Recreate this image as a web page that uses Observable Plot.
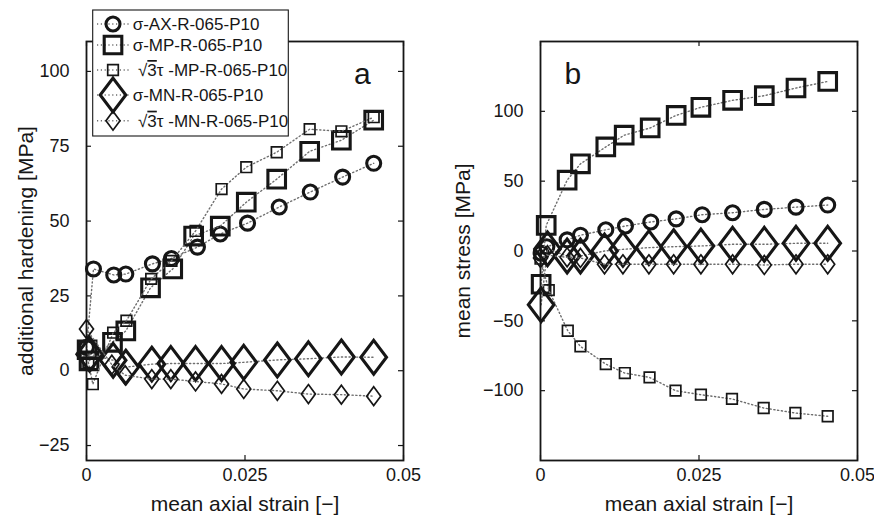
<!DOCTYPE html>
<html><head><meta charset="utf-8">
<script src="https://cdn.jsdelivr.net/npm/d3@7"></script>
<script src="https://cdn.jsdelivr.net/npm/@observablehq/plot@0.6"></script>
<style>
body{margin:0;background:#fff;}
#wrap{position:relative;width:874px;height:515px;font-family:"Liberation Sans",Arial,sans-serif;overflow:hidden;}
#wrap svg{position:absolute;top:0;}
</style></head><body><div id="wrap"></div>
<script>
// ---------- axis ticks ----------
const xTicks = [0, 0.025, 0.05];
const xTickLabels = ["0", "0.025", "0.05"];
const yTicksA = [-25, 0, 25, 50, 75, 100];
const yTicksB = [-100, -50, 0, 50, 100];
const seriesNames = ["σ-AX-R-065-P10", "σ-MP-R-065-P10", "√3τ -MP-R-065-P10", "σ-MN-R-065-P10", "√3τ -MN-R-065-P10"];

// ---------- panel a: additional hardening [MPa] vs strain ----------
const aAX = [[0,7.8],[0.0011,34],[0.0043,32],[0.0062,32.3],[0.0104,35.7],[0.0134,37.5],[0.0175,41.3],[0.0211,45.7],[0.0254,49.3],[0.0304,54.7],[0.0353,59.7],[0.0404,64.7],[0.0453,69.3]];
const aMP = [[0.0001,7],[0.0004,3.3],[0.0041,9.5],[0.0062,13.3],[0.0101,27.7],[0.0136,34],[0.0169,45],[0.0211,48.3],[0.0252,56.3],[0.0300,64],[0.0352,73.3],[0.0402,77],[0.0453,83.7]];
const aMPt = [[0.0003,2.8],[0.0010,-4.5],[0.0042,12.7],[0.0063,16.7],[0.0102,30.7],[0.0134,36.7],[0.0172,46.7],[0.0213,60.7],[0.0252,68],[0.0300,73],[0.0352,80.7],[0.0402,80],[0.0453,84.7]];
const aMN = [[0.0005,5.5],[0.0042,3.5],[0.0062,1.2],[0.0103,2.2],[0.0133,2.4],[0.0172,2.4],[0.0213,2.4],[0.0248,2.8],[0.0301,3.6],[0.0350,4],[0.0402,4.6],[0.0453,4.5]];
const aMNt = [[0,13.9],[0.0040,2],[0.0061,-1.5],[0.0103,-2.8],[0.0133,-2.8],[0.0172,-3.6],[0.0213,-4.4],[0.0248,-6.1],[0.0301,-6.7],[0.0350,-7.8],[0.0402,-8],[0.0453,-8.5]];

// ---------- panel b: mean stress [MPa] vs strain ----------
const bAX = [[0.0001,-1.5],[0.0010,3],[0.0042,8],[0.0063,11.3],[0.0103,15.2],[0.0134,17.9],[0.0174,20.8],[0.0214,23],[0.0255,26],[0.0303,27.4],[0.0353,29.8],[0.0403,31.4],[0.0453,32.9]];
const bMP = [[0.0001,-23.8],[0.0009,18.3],[0.0042,50.7],[0.0063,62.4],[0.0103,74.5],[0.0132,82.9],[0.0173,88.1],[0.0214,97.1],[0.0253,102.9],[0.0303,107.9],[0.0353,111.2],[0.0403,116.7],[0.0453,121.4]];
const bMPt = [[0,-5.5],[0.0013,-28],[0.0043,-57.1],[0.0063,-68.3],[0.0103,-81],[0.0133,-87.4],[0.0172,-90.5],[0.0213,-100],[0.0253,-102.9],[0.0302,-105.9],[0.0352,-112.4],[0.0402,-116],[0.0453,-118.3]];
const bMN = [[0.0001,-38.5],[0.0011,1.5],[0.0042,-3.6],[0.0063,-3.6],[0.0101,0],[0.0130,1.2],[0.0171,2.4],[0.0210,3.1],[0.0253,3.6],[0.0303,4.8],[0.0353,4.8],[0.0403,5.5],[0.0453,5.5]];
const bMNt = [[0,-5],[0.0011,-3],[0.0042,-4.5],[0.0063,-5],[0.0101,-9.5],[0.0130,-9.5],[0.0171,-9.5],[0.0210,-9.5],[0.0253,-9.5],[0.0303,-9.5],[0.0353,-10],[0.0403,-9.5],[0.0453,-9.5]];

// ---------- marker symbols ----------
const squareSym = {draw(ctx, size){const r=Math.sqrt(size/Math.PI); ctx.moveTo(-r,-r); ctx.lineTo(r,-r); ctx.lineTo(r,r); ctx.lineTo(-r,r); ctx.closePath();}};
function diamondSym(aspect){return {draw(ctx, size){const r=Math.sqrt(size/Math.PI), h=r*aspect; ctx.moveTo(0,-h); ctx.lineTo(r,0); ctx.lineTo(0,h); ctx.lineTo(-r,0); ctx.closePath();}};}
const circleSym = {draw(ctx, size){const r=Math.sqrt(size/Math.PI); ctx.moveTo(r,0); ctx.arc(0,0,r,0,2*Math.PI);}};
const styles = [
  {sym: circleSym, r: 7, sw: 3.1},
  {sym: squareSym, r: 8.8, sw: 3.1},
  {sym: squareSym, r: 5.3, sw: 1.7},
  {sym: diamondSym(1.32), r: 12.8, sw: 3.1},
  {sym: diamondSym(1.35), r: 7, sw: 1.7}
];
const ink = "#161616";
const lineStyle = {stroke: "#6e6e6e", strokeWidth: 1.4, strokeDasharray: "1.2,2.6"};
const fmt = d => d < 0 ? "\u2212" + Math.abs(d) : String(d);

function panel({series, yDomain, yTicks, marginLeft, marginRight, ylabel, ylabelDx, tag, tagX, tagY}) {
  const W = 437, H = 515, mt = 41, mb = 55;
  const xPx = (W - marginLeft - marginRight) / 0.05;
  const yPx = (H - mt - mb) / (yDomain[1] - yDomain[0]);
  const tx = 5 / xPx, ty = 5 / yPx;
  const marks = [];
  // inward ticks
  marks.push(Plot.ruleY(yTicks, {x1: 0, x2: tx, stroke: ink, strokeWidth: 1.2}));
  marks.push(Plot.ruleY(yTicks, {x1: 0.05 - tx, x2: 0.05, stroke: ink, strokeWidth: 1.2}));
  marks.push(Plot.ruleX(xTicks, {y1: yDomain[0], y2: yDomain[0] + ty, stroke: ink, strokeWidth: 1.2}));
  marks.push(Plot.ruleX(xTicks, {y1: yDomain[1] - ty, y2: yDomain[1], stroke: ink, strokeWidth: 1.2}));
  marks.push(Plot.axisX({ticks: xTicks, tickSize: 0, tickPadding: 8, tickFormat: d => xTickLabels[xTicks.indexOf(d)], label: null, fontSize: 18}));
  marks.push(Plot.axisY({ticks: yTicks, tickSize: 0, tickPadding: 17, tickFormat: fmt, label: null, fontSize: 18}));
  series.forEach((s, i) => {
    marks.push(Plot.line(s, {x: d => d[0], y: d => d[1], ...lineStyle}));
    marks.push(Plot.dot(s, {x: d => d[0], y: d => d[1], symbol: styles[i].sym, r: styles[i].r, stroke: ink, strokeWidth: styles[i].sw, fill: "none", strokeLinejoin: "miter"}));
  });
  marks.push(Plot.frame({stroke: ink, strokeWidth: 1.8}));
  marks.push(Plot.text(["mean axial strain [\u2212]"], {frameAnchor: "bottom", dy: 50, lineAnchor: "bottom", fontSize: 21, fill: ink}));
  marks.push(Plot.text([ylabel], {frameAnchor: "left", dx: ylabelDx, rotate: -90, lineAnchor: "middle", textAnchor: "middle", fontSize: 21, fill: ink}));
  marks.push(Plot.text([tag], {x: tagX, y: tagY, fontSize: 30, lineAnchor: "bottom", textAnchor: "middle", fill: ink}));
  return Plot.plot({
    width: W, height: H, marginLeft, marginRight, marginTop: mt, marginBottom: mb,
    x: {domain: [0, 0.05], axis: null},
    y: {domain: yDomain, axis: null},
    style: {fontFamily: '"Liberation Sans", Arial, sans-serif', color: ink, background: "transparent", overflow: "visible"},
    marks
  });
}

const wrap = document.getElementById("wrap");
const pa = panel({series: [aAX, aMP, aMPt, aMN, aMNt], yDomain: [-30, 110], yTicks: yTicksA, marginLeft: 86, marginRight: 34,
  ylabel: "additional hardening [MPa]", ylabelDx: -60, tag: "a", tagX: 0.0435, tagY: 95.7});
pa.style.left = "0px";
wrap.appendChild(pa);
const pb = panel({series: [bAX, bMP, bMPt, bMN, bMNt], yDomain: [-150, 150], yTicks: yTicksB, marginLeft: 103, marginRight: 17,
  ylabel: "mean stress [MPa]", ylabelDx: -77, tag: "b", tagX: 0.0051, tagY: 119.3});
pb.style.left = "437px";
wrap.appendChild(pb);

// ---------- legend ----------
const lg = d3.create("svg").attr("width", 300).attr("height", 140).style("left", "0px")
  .style("font-family", '"Liberation Sans", Arial, sans-serif');
lg.append("rect").attr("x", 92.7).attr("y", 10).attr("width", 195.6).attr("height", 126)
  .attr("fill", "#fff").attr("stroke", ink).attr("stroke-width", 1.1);
const rowY = [24, 45, 70, 95, 120.7];
seriesNames.forEach((name, i) => {
  const y = rowY[i];
  lg.append("line").attr("x1", 97).attr("x2", 129).attr("y1", y).attr("y2", y)
    .attr("stroke", lineStyle.stroke).attr("stroke-width", lineStyle.strokeWidth).attr("stroke-dasharray", lineStyle.strokeDasharray);
  const st = styles[i];
  lg.append("path").attr("transform", `translate(113,${y})`)
    .attr("d", d3.symbol(st.sym, st.r * st.r * Math.PI)())
    .attr("fill", "none").attr("stroke", ink).attr("stroke-width", st.sw).attr("stroke-linejoin", "miter");
  const t = lg.append("text").attr("y", y + 6).attr("font-size", 17).attr("fill", ink);
  if (name.startsWith("√3τ")) {
    t.attr("x", 138);
    t.append("tspan").text("√");
    t.append("tspan").attr("text-decoration", "overline").text("3");
    t.append("tspan").text(name.slice(2));
  } else {
    t.attr("x", 132.7).text(name);
  }
});
wrap.appendChild(lg.node());
</script>
</body></html>
